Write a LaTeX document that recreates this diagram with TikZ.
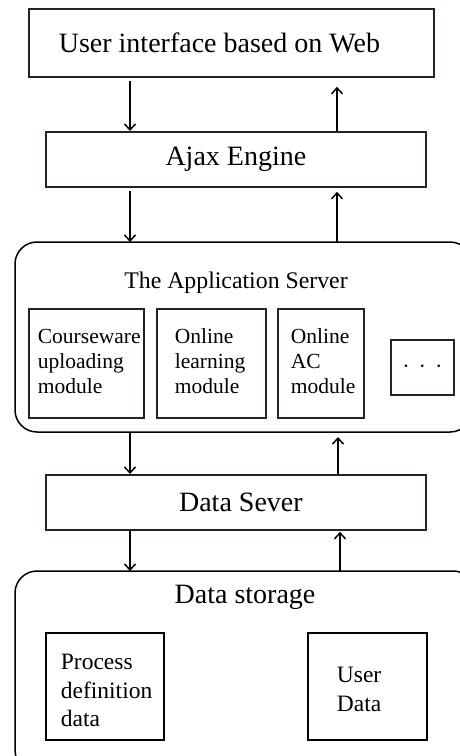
\documentclass[tikz,border=0pt]{standalone}
\usepackage{fontspec}
\setmainfont{Liberation Serif}
\usetikzlibrary{arrows.meta}
\definecolor{boxc}{RGB}{30,36,52}
\tikzset{
  box/.style={draw=boxc, line width=1.8pt, rectangle, inner sep=0pt, anchor=north west},
  bigtxt/.style={font=\fontsize{28}{32}\selectfont},
  modbox/.style={draw=boxc, line width=1.8pt, rectangle, anchor=north west, align=left,
    font=\fontsize{21.5}{25}\selectfont, inner xsep=0pt, inner ysep=0pt},
  storebox/.style={draw=black, line width=1.8pt, rectangle, anchor=north west, align=left,
    font=\fontsize{23.5}{28.5}\selectfont, inner xsep=0pt, inner ysep=0pt},
  group/.style={draw=black, line width=1.5pt, rounded corners=22pt},
  arr/.style={draw=black, line width=1.5pt, -{Straight Barb[length=6pt,width=11pt,line width=1.5pt]}},
}
\begin{document}
\begin{tikzpicture}[x=1pt,y=-1pt]
\useasboundingbox (0,0) rectangle (460,756);
\begin{scope}
\clip (0,0) rectangle (460,756);
\draw[group] (15,242) rectangle (472,432);
\draw[group] (15,571) rectangle (475,772);
\end{scope}
\coordinate (L) at (130,0);
\coordinate (R) at (337,0);
% top boxes
\node[box, minimum width=405pt, minimum height=68pt, bigtxt] (ui) at (28,8) {User interface based on Web\hspace*{24pt}};
\node[box, minimum width=380pt, minimum height=55pt, bigtxt] (ajax) at (45,131) {Ajax Engine};
% application server
\coordinate (apptop) at (130,242);
\coordinate (appbot) at (130,432);
\node[font=\fontsize{23.8}{28}\selectfont] (apptitle) at (236,283) {The Application Server};
\node[modbox, minimum width=115pt, minimum height=109pt, text width=115pt] (m1) at (28,308) {\hspace*{9pt}\begin{tabular}{@{}l@{}}Courseware\\uploading\\module\end{tabular}};
\node[modbox, minimum width=109pt, minimum height=109pt, text width=109pt] (m2) at (156,308) {\hspace*{18pt}\begin{tabular}{@{}l@{}}Online\\learning\\module\end{tabular}};
\node[modbox, minimum width=86pt, minimum height=109pt, text width=86pt] (m3) at (277,308) {\hspace*{13pt}\begin{tabular}{@{}l@{}}Online\\AC\\module\end{tabular}};
\node[box, minimum width=63pt, minimum height=55pt, font=\fontsize{26}{28}\selectfont] (m4) at (390,339) {$\cdot\hspace{4pt}\cdot\hspace{4pt}\cdot$};
% data server
\node[box, minimum width=380pt, minimum height=55pt, bigtxt] (ds) at (45,474) {\hspace*{10pt}Data Sever};
% data storage
\coordinate (sttop) at (130,571);
\node[font=\fontsize{28}{32}\selectfont] (sttitle) at (245,597) {Data storage};
\node[storebox, minimum width=118pt, minimum height=107pt, text width=118pt] (p1) at (45,632) {\hspace*{15pt}\raisebox{-6pt}[\height][\depth]{\begin{tabular}{@{}l@{}}Process\\definition\\data\end{tabular}}};
\node[storebox, minimum width=119pt, minimum height=107pt, text width=119pt] (p2) at (307,632) {\hspace*{29pt}\raisebox{-5pt}[\height][\depth]{\begin{tabular}{@{}l@{}}User\\Data\end{tabular}}};
% arrows
\draw[arr] ([yshift=-3pt]ui.south -| L) -- (ajax.north -| L);
\draw[arr] (ajax.north -| R) -- ([yshift=-9pt]ui.south -| R);
\draw[arr] ([yshift=-3pt]ajax.south -| L) -- (apptop -| L);
\draw[arr] (apptop -| R) -- ([yshift=-4pt]ajax.south -| R);
\draw[arr] (appbot -| L) -- (ds.north -| L);
\draw[arr] ([xshift=1pt]ds.north -| R) -- ([xshift=1pt,yshift=-5pt]appbot -| R);
\draw[arr] (ds.south -| L) -- (sttop -| L);
\draw[arr] ([xshift=3pt]sttop -| R) -- ([xshift=3pt,yshift=-1pt]ds.south -| R);
\end{tikzpicture}
\end{document}
